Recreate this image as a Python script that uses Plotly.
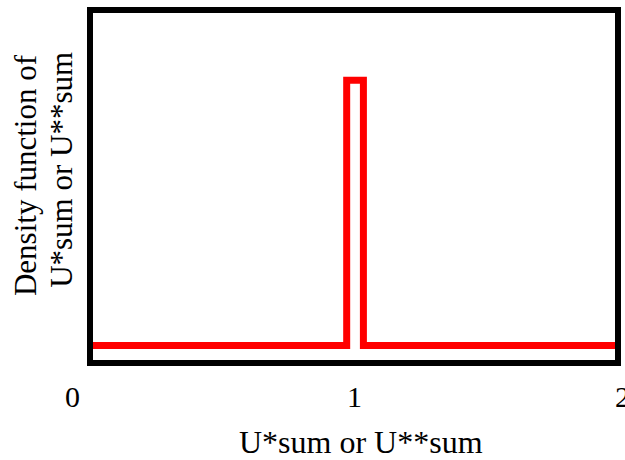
import plotly.graph_objects as go

# Step density: flat baseline with a narrow rectangular pulse around 1
x_vals = [0.0, 0.972, 0.972, 1.036, 1.036, 2.0]
density = [0.0, 0.0, 1.0, 1.0, 0.0, 0.0]

tick_values = [0, 1, 2]
tick_labels = ["0", "1", "2"]

y_title_lines = ["Density function of", "U*sum or U**sum"]

FONT = "Liberation Serif, Times New Roman, serif"

fig = go.Figure()
fig.add_trace(go.Scatter(
    x=x_vals, y=density, mode="lines",
    line=dict(color="#ff0000", width=7),
    hoverinfo="skip", showlegend=False,
))

# tick labels as annotations (the end ones sit out past the frame)
label_shift = {tick_values[0]: -21, tick_values[-1]: 7}
for v, t in zip(tick_values, tick_labels):
    fig.add_annotation(
        x=v, y=0, xref="x", yref="paper", text=t, showarrow=False,
        xanchor="center", yanchor="top", yshift=-18,
        xshift=label_shift.get(v, 0),
        font=dict(family=FONT, size=30, color="black"),
    )

fig.update_xaxes(
    range=[0, 2], showgrid=False, zeroline=False, showticklabels=False,
    ticks="", showline=True, linecolor="black", linewidth=6, mirror=True,
)
fig.update_yaxes(
    range=[-0.0546, 1.254], showgrid=False, zeroline=False,
    showticklabels=False, ticks="", showline=True, linecolor="black",
    linewidth=6, mirror=True,
)

fig.add_annotation(
    x=0.5, y=0, xref="paper", yref="paper", text="U*sum or U**sum",
    showarrow=False, xanchor="center", yanchor="top", yshift=-62, xshift=7,
    font=dict(family=FONT, size=32, color="black"),
)

# two-line vertical title, each line placed on its own
for line, xs, yc in zip(y_title_lines, [-68, -31], [0.533, 0.548]):
    fig.add_annotation(
        x=0, y=yc, xref="paper", yref="paper", text=line,
        showarrow=False, textangle=-90, xanchor="center", yanchor="middle",
        xshift=xs, font=dict(family=FONT, size=31, color="black"),
    )

fig.update_layout(
    width=625, height=460,
    margin=dict(l=93, r=4, t=13, b=100),
    paper_bgcolor="white", plot_bgcolor="white",
)

fig.write_html("out.html")
